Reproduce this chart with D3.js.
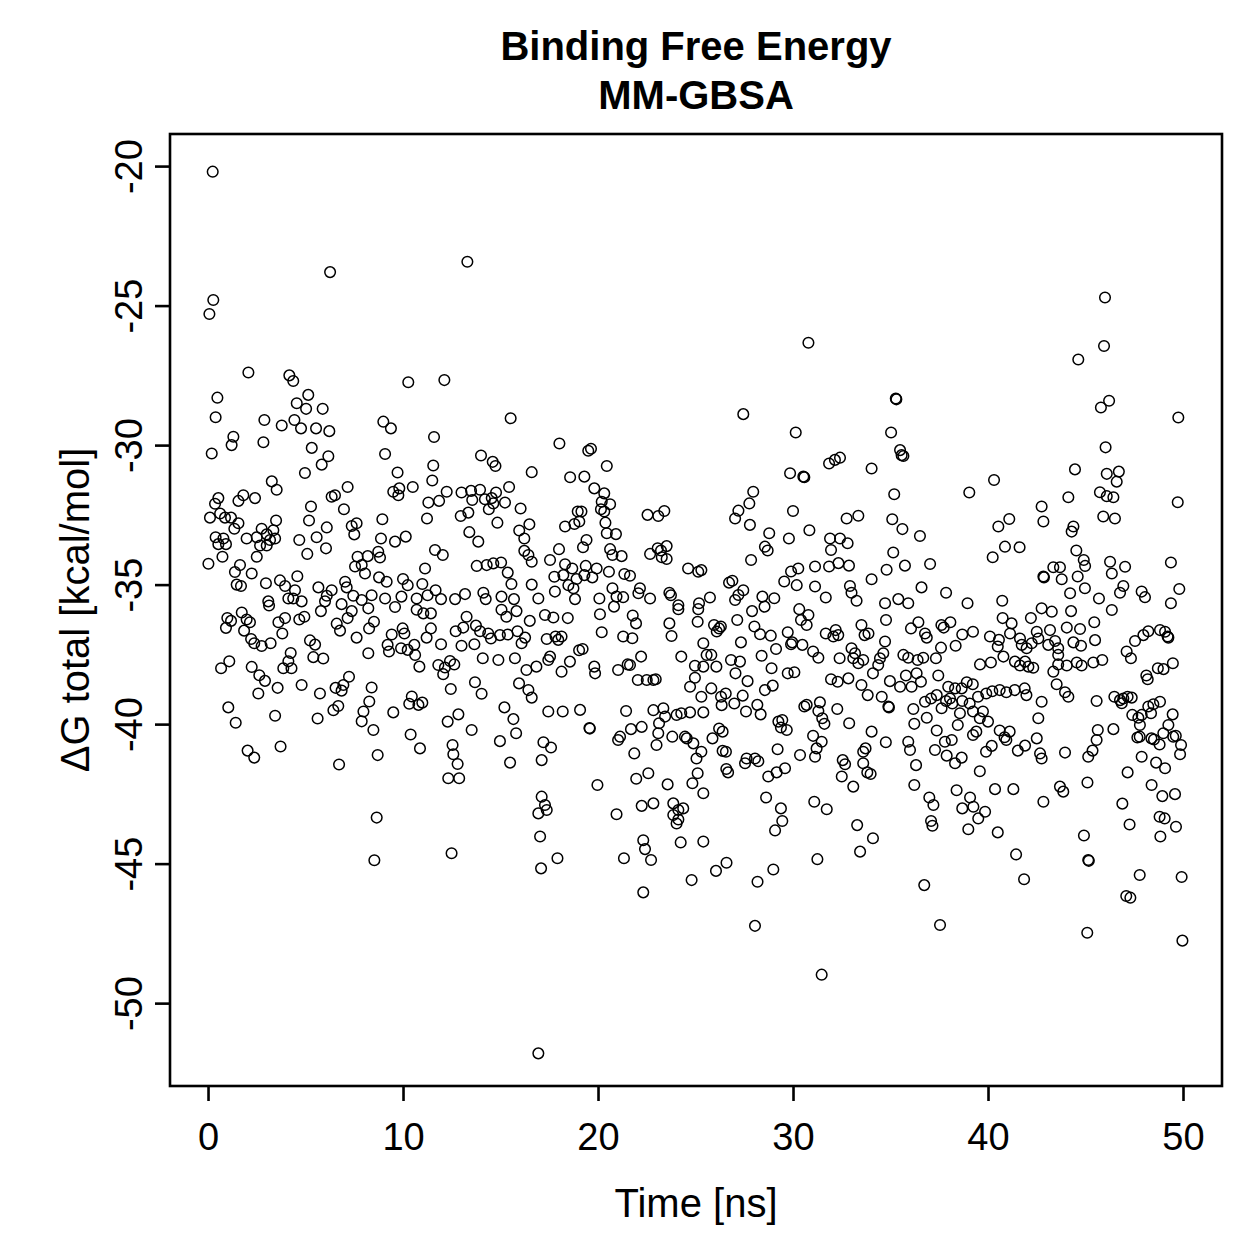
<!DOCTYPE html>
<html>
<head>
<meta charset="utf-8">
<script src="https://cdn.jsdelivr.net/npm/d3@7"></script>
<style>
  html, body { margin: 0; padding: 0; background: #ffffff; }
  svg text { font-family: "Liberation Sans", Arial, Helvetica, sans-serif; fill: #000; }
</style>
</head>
<body>
<svg id="chart" width="1259" height="1259"></svg>
<script>
// ---- Chart text ----
const titleLines = ["Binding Free Energy", "MM-GBSA"];
const xAxisLabel = "Time [ns]";
const yAxisLabel = "\u0394G total [kcal/mol]";

// ---- Tick values ----
const xTicks = [0, 10, 20, 30, 40, 50];
const yTicks = [-20, -25, -30, -35, -40, -45, -50];

// ---- Samples: [time (ns), ΔG total (kcal/mol)] ----
const samplesA = [
[0.24,-20.2],[6.26,-23.8],[0.27,-24.8],[0.07,-25.3],[2.07,-27.4],[4.17,-27.5],[4.37,-27.7],[0.48,-28.3],[5.14,-28.2],[4.55,-28.5],[5.03,-28.7],[5.88,-28.7],[0.39,-29.0],[2.89,-29.1],[3.78,-29.3],[4.43,-29.1],[4.77,-29.4],[5.54,-29.4],[6.22,-29.5],[1.30,-29.7],[1.21,-30.0],[2.84,-29.9],[0.19,-30.3],[5.32,-30.1],[6.17,-30.4],[5.83,-30.7],[4.97,-31.0],[3.27,-31.3],[3.52,-31.6],[7.16,-31.5],[0.36,-32.1],[0.53,-31.9],[1.81,-31.8],[1.56,-32.0],[2.41,-31.9],[6.34,-31.85],[6.51,-31.8],[5.28,-32.2],[6.97,-32.3],[0.10,-32.6],[0.62,-32.45],[0.87,-32.6],[1.18,-32.6],[1.56,-32.8],[1.35,-33.0],[3.49,-32.7],[5.18,-32.7],[6.09,-32.95],[7.37,-32.9],[7.62,-32.8],[7.50,-33.2],[0.39,-33.3],[0.79,-33.35],[0.53,-33.55],[0.92,-33.55],[1.98,-33.35],[2.75,-33.0],[3.01,-33.2],[3.35,-33.05],[3.44,-33.35],[3.18,-33.4],[2.67,-33.6],[3.01,-33.6],[2.50,-33.3],[4.68,-33.4],[5.57,-33.3],[6.05,-33.7],[5.09,-33.9],[0.74,-34.0],[2.50,-34.0],[0.02,-34.25],[1.64,-34.3],[1.38,-34.55],[2.24,-34.6],[7.67,-34.0],[7.54,-34.35],[7.88,-34.3],[3.69,-34.85],[2.97,-34.95],[1.47,-35.0],[1.69,-35.05],[3.95,-35.05],[4.58,-34.7],[4.46,-35.2],[5.66,-35.1],[7.03,-34.9],[7.11,-35.1],[6.34,-35.2],[6.09,-35.4],[7.45,-35.4],[3.09,-35.6],[4.12,-35.5],[4.37,-35.5],[4.80,-35.6],[6.0,-35.6],[6.85,-35.7],[7.88,-35.55],
[3.13,-35.75],[0.99,-36.2],[0.92,-36.55],[1.73,-36.0],[1.98,-36.25],[2.15,-36.35],[1.85,-36.65],[1.18,-36.3],[3.61,-36.35],[3.95,-36.2],[3.81,-36.75],[4.68,-36.25],[4.94,-36.15],[5.79,-35.95],[6.60,-36.4],[6.77,-36.65],[7.16,-36.2],[7.37,-35.95],[7.62,-36.9],[2.21,-36.95],[2.37,-37.1],[2.75,-37.2],[3.21,-37.1],[5.23,-37.0],[5.49,-37.15],[5.40,-37.6],[5.91,-37.65],[4.24,-37.45],[4.12,-37.75],[4.28,-38.0],[3.86,-38.0],[1.09,-37.75],[0.67,-38.0],[2.24,-37.95],[2.63,-38.25],[2.92,-38.45],[2.58,-38.9],[3.57,-38.7],[4.80,-38.6],[5.74,-38.9],[6.54,-38.7],[6.94,-38.6],[6.85,-38.8],[7.23,-38.3],[1.04,-39.4],[1.42,-39.95],[3.44,-39.7],[5.62,-39.8],[6.43,-39.5],[6.68,-39.35],[7.88,-39.9],[7.97,-39.55],[2.03,-40.95],[2.37,-41.2],[3.72,-40.8],[6.72,-41.45]
];
const samplesB = [
[13.30,-23.43],[10.27,-27.75],[12.12,-27.67],[8.99,-29.16],[9.38,-29.4],[15.52,-29.04],[11.59,-29.71],[9.08,-30.32],[14.0,-30.37],[14.6,-30.6],[14.74,-30.75],[11.55,-30.73],[9.72,-30.98],[11.50,-31.27],[16.6,-30.97],[9.5,-31.67],[9.81,-31.55],[9.76,-31.8],[10.5,-31.5],[12.24,-31.67],[11.85,-32.0],[11.3,-32.06],[13.0,-31.7],[13.49,-31.64],[13.95,-31.6],[13.55,-31.97],[14.2,-31.94],[14.55,-31.9],[14.77,-31.7],[15.44,-31.5],[14.63,-32.09],[14.4,-32.3],[15.23,-32.06],[16.03,-32.27],[8.94,-32.66],[11.23,-32.63],[12.96,-32.54],[13.35,-32.42],[14.84,-32.78],[16.48,-32.84],[8.87,-33.35],[9.59,-33.46],[10.14,-33.28],[13.4,-33.12],[13.86,-33.46],[15.96,-33.06],[16.22,-33.35],[8.19,-33.98],[8.73,-33.82],[8.82,-34.03],[11.64,-33.76],[12.04,-33.94],[16.22,-33.79],[16.43,-33.94],[16.6,-34.18],[11.13,-34.42],[13.78,-34.33],[14.29,-34.3],[14.63,-34.24],[15.03,-34.21],[15.37,-34.57],[8.05,-34.6],[8.77,-34.74],[9.16,-34.9],[10.0,-34.8],[10.24,-35.02],[10.99,-34.98],[15.56,-34.98],[16.6,-35.0],[8.39,-35.38],[9.08,-35.5],[9.92,-35.43],[10.7,-35.5],[11.26,-35.38],[11.67,-35.2],[11.95,-35.52],[12.67,-35.52],[13.18,-35.34],[14.12,-35.29],[14.24,-35.52],[15.05,-35.43],[15.69,-35.52],
[8.22,-35.85],[9.59,-35.8],[10.7,-35.9],[11.04,-36.03],[11.43,-36.03],[13.26,-36.15],[15.05,-35.9],[15.3,-36.15],[15.82,-35.95],[16.5,-36.3],[8.51,-36.33],[8.26,-36.57],[9.42,-36.79],[9.98,-36.57],[10.07,-36.75],[11.43,-36.57],[11.21,-36.9],[12.7,-36.67],[13.09,-36.54],[13.74,-36.47],[13.95,-36.67],[14.37,-36.75],[14.51,-36.93],[14.97,-36.81],[15.37,-36.79],[15.87,-36.67],[16.26,-36.9],[16.08,-37.1],[9.21,-37.16],[9.28,-37.4],[8.22,-37.46],[9.9,-37.28],[10.24,-37.34],[10.58,-37.16],[10.62,-37.52],[10.84,-37.94],[11.95,-37.14],[13.0,-37.19],[13.66,-37.14],[14.09,-37.64],[14.89,-37.7],[15.74,-37.64],[11.81,-37.88],[12.15,-37.97],[12.41,-37.74],[12.63,-37.86],[12.06,-38.21],[16.33,-38.06],[8.39,-38.69],[8.27,-39.19],[9.5,-39.58],[10.45,-39.01],[10.32,-39.27],[10.79,-39.31],[10.99,-39.23],[12.45,-38.74],[13.69,-38.5],[14.03,-38.91],[15.95,-38.54],[16.43,-38.78],[16.6,-39.05],[12.29,-39.91],[12.84,-39.65],[13.52,-40.21],[15.2,-39.4],[15.66,-39.82],[15.8,-40.33],[14.97,-40.61],[8.48,-40.21],[10.39,-40.37],[10.87,-40.87],[12.54,-40.75],[12.58,-41.08],[12.8,-41.43],[8.7,-41.11],[15.49,-41.38],[12.32,-41.94],[12.88,-41.94],[8.65,-43.35],[8.53,-44.88],[12.49,-44.63]
];
const samplesC = [
[18.02,-29.94],[19.5,-30.2],[19.64,-30.13],[20.45,-30.75],[18.57,-31.15],[19.3,-31.13],[19.81,-31.55],[20.32,-31.73],[20.19,-32.03],[20.62,-32.12],[20.15,-32.3],[20.32,-32.38],[18.96,-32.38],[19.15,-32.38],[22.54,-32.5],[23.09,-32.54],[23.4,-32.36],[18.31,-32.92],[18.79,-32.83],[19.04,-32.74],[20.38,-32.78],[20.45,-33.16],[20.92,-33.19],[19.41,-33.4],[19.23,-33.66],[18.0,-33.73],[20.62,-33.73],[20.74,-33.94],[21.21,-33.98],[22.67,-33.9],[23.06,-33.7],[23.23,-33.78],[23.52,-33.62],[23.27,-34.02],[23.52,-34.08],[17.54,-34.12],[18.31,-34.27],[18.68,-34.42],[19.37,-34.33],[19.93,-34.42],[20.56,-34.54],[21.35,-34.62],[21.64,-34.68],[24.62,-34.42],[25.14,-34.54],[25.3,-34.48],[17.76,-34.72],[18.22,-34.66],[18.9,-34.8],[19.3,-34.66],[19.71,-34.74],[18.48,-35.02],[18.74,-35.13],[17.79,-35.25],[20.74,-35.13],[22.15,-35.13],[22.07,-35.31],[23.66,-35.29],[23.74,-35.38],[16.94,-35.5],[18.82,-35.52],[20.07,-35.5],[20.95,-35.43],[21.29,-35.45],[22.67,-35.5],[24.12,-35.74],[25.18,-35.67],
[17.28,-36.09],[17.71,-36.18],[18.45,-36.2],[20.1,-36.06],[20.82,-35.79],[21.78,-36.11],[21.95,-36.39],[23.66,-36.39],[24.12,-35.88],[25.11,-36.33],[25.14,-35.88],[17.37,-36.95],[17.82,-36.86],[17.96,-36.98],[18.13,-36.86],[20.19,-36.71],[21.29,-36.86],[21.76,-36.92],[23.77,-36.84],[25.4,-37.1],[17.54,-37.58],[17.45,-37.7],[19.03,-37.35],[19.21,-37.31],[18.56,-37.76],[18.13,-38.12],[16.84,-37.94],[19.81,-37.94],[19.85,-38.18],[21.03,-38.06],[21.52,-37.86],[21.64,-37.88],[22.21,-37.58],[22.04,-38.42],[22.5,-38.42],[22.84,-38.42],[22.96,-38.39],[24.27,-37.58],[24.97,-37.91],[25.4,-37.94],[24.97,-38.34],[24.72,-38.66],[25.3,-39.02],[17.45,-39.55],[18.19,-39.55],[19.08,-39.49],[19.56,-40.14],[19.58,-40.16],[21.44,-39.53],[22.84,-39.5],[23.35,-39.43],[23.13,-39.97],[23.44,-39.73],[24.03,-39.67],[24.27,-39.61],[24.72,-39.58],[25.4,-39.58],[21.69,-40.18],[22.24,-40.1],[21.13,-40.45],[21.03,-40.57],[23.09,-40.33],[23.81,-40.45],[24.46,-40.45],[24.55,-40.51],[24.89,-40.69],[23.0,-40.75],[21.86,-41.05],[17.2,-40.65],[17.59,-40.84],[17.11,-41.29],[25.05,-41.23],[25.3,-40.99],[19.97,-42.18],[21.96,-41.96],[22.58,-41.76],[23.57,-42.16],[24.84,-42.12],[25.11,-41.76],[25.4,-42.48],[22.24,-42.93],[22.84,-42.84],[23.86,-42.84],[24.12,-43.08],[24.37,-43.02],[23.86,-43.26],[24.03,-43.56],[24.12,-43.42],[17.11,-42.6],[17.28,-42.9],[17.37,-43.08],[16.94,-43.2],[20.95,-43.23],[17.03,-44.03],[22.32,-44.16],[22.41,-44.48],[22.72,-44.87],[24.24,-44.24],[25.4,-44.21],[17.92,-44.81],[17.08,-45.17],[21.33,-44.81],[24.8,-45.59],[22.32,-46.03],[16.94,-51.8]
];
const samplesD = [
[30.79,-26.33],[27.45,-28.89],[30.14,-29.55],[31.85,-30.66],[32.15,-30.53],[32.41,-30.45],[29.85,-31.01],[30.53,-31.13],[30.58,-31.15],[34.03,-30.84],[27.96,-31.67],[27.76,-32.09],[27.2,-32.35],[27.03,-32.63],[27.79,-32.86],[30.0,-32.36],[32.75,-32.63],[33.35,-32.53],[28.78,-33.16],[28.56,-33.64],[28.7,-33.78],[29.79,-33.35],[30.84,-33.05],[31.9,-33.35],[32.41,-33.35],[32.8,-33.52],[31.95,-33.76],[27.85,-34.12],[29.9,-34.53],[30.27,-34.42],[31.13,-34.35],[31.85,-34.35],[32.33,-34.23],[32.87,-34.32],[34.03,-34.81],[26.72,-34.93],[26.89,-34.86],[27.45,-35.2],[27.2,-35.37],[29.55,-34.89],[30.19,-35.02],[31.13,-35.07],[32.92,-35.05],[33.0,-35.29],[25.74,-35.46],[27.03,-35.55],[28.43,-35.43],[29.04,-35.49],[31.68,-35.46],[33.26,-35.58],
[27.9,-35.95],[28.54,-35.79],[30.32,-35.88],[30.79,-36.09],[25.95,-36.45],[26.21,-36.57],[26.3,-36.5],[26.09,-36.68],[27.14,-36.27],[28.02,-36.5],[28.31,-36.78],[28.86,-36.83],[29.73,-36.71],[29.96,-37.07],[29.9,-37.14],[30.48,-37.16],[30.41,-36.27],[30.7,-36.45],[31.68,-36.75],[32.07,-36.86],[32.19,-36.63],[32.32,-36.81],[33.51,-36.45],[33.67,-36.81],[33.87,-36.75],[27.33,-37.07],[29.13,-37.31],[28.39,-37.55],[31.03,-37.4],[31.3,-37.62],[32.39,-37.64],[33.0,-37.28],[33.18,-37.46],[33.09,-37.64],[33.35,-37.82],[33.6,-37.7],[25.57,-37.52],[25.81,-37.52],[26.07,-37.94],[26.82,-37.7],[27.28,-37.76],[27.05,-38.18],[27.67,-38.46],[28.9,-38.0],[29.73,-38.18],[30.07,-38.14],[31.95,-38.39],[32.29,-38.48],[32.84,-38.36],[33.51,-38.6],[33.83,-38.96],[34.1,-38.18],[25.81,-38.72],[26.31,-39.02],[26.55,-38.9],[26.34,-39.32],[26.99,-39.26],[27.42,-38.98],[28.56,-38.78],[28.96,-38.62],[27.59,-39.55],[28.17,-39.31],[28.34,-39.65],[30.58,-39.37],[30.7,-39.31],[31.38,-39.22],[31.3,-39.53],[32.27,-39.46],[29.25,-39.91],[29.45,-39.85],[29.38,-40.12],[29.68,-40.21],[31.5,-39.79],[31.61,-39.99],[32.88,-39.97],[34.03,-40.27],[25.87,-40.51],[26.21,-40.16],[26.39,-40.27],[31.03,-40.42],[31.47,-40.63],[31.21,-40.87],[31.13,-41.17],[29.21,-40.9],[30.36,-41.11],[26.39,-40.96],[26.56,-40.99],[27.54,-41.4],[27.62,-41.23],[28.05,-41.23],[28.22,-41.33],[26.58,-41.61],[26.67,-41.73],[28.73,-41.88],[29.16,-41.73],[29.59,-41.58],[32.55,-41.29],[32.67,-41.44],[32.5,-41.88],[33.6,-40.99],[33.72,-40.87],[33.6,-41.4],[33.81,-41.73],[33.98,-41.79],[33.09,-42.24],[28.62,-42.63],[29.38,-43.02],[29.45,-43.47],[29.08,-43.81],[31.09,-42.78],[31.73,-43.05],[33.29,-43.62],[33.44,-44.57],[34.1,-44.09],[26.05,-45.26],[26.59,-44.97],[28.99,-45.21],[28.18,-45.65],[31.25,-44.84],[28.05,-47.23],[31.47,-48.98]
];
const samplesE = [
[35.27,-28.33],[35.3,-28.36],[35.03,-29.55],[35.49,-30.18],[35.66,-30.39],[35.57,-30.36],[40.31,-31.25],[39.04,-31.7],[35.19,-31.76],[35.09,-32.66],[35.61,-33.01],[36.51,-33.26],[40.53,-32.92],[41.09,-32.65],[42.75,-32.2],[42.84,-32.74],[35.14,-33.85],[34.8,-34.47],[35.74,-34.32],[37.03,-34.26],[40.87,-33.64],[40.24,-34.02],[41.62,-33.66],[37.85,-35.29],[36.59,-35.1],[42.84,-34.71],[42.87,-34.74],[35.4,-35.52],[34.72,-35.67],[35.91,-35.67],[38.95,-35.67],[40.73,-35.58],
[42.75,-35.85],[34.77,-36.27],[36.05,-36.57],[36.43,-36.35],[36.77,-36.75],[36.86,-36.9],[37.61,-36.45],[37.73,-36.54],[38.07,-36.35],[38.68,-36.79],[39.23,-36.69],[38.34,-37.19],[37.59,-37.26],[40.75,-36.2],[41.21,-36.39],[42.2,-36.2],[40.1,-36.86],[40.56,-36.98],[40.5,-37.22],[41.13,-36.75],[41.64,-36.93],[41.73,-37.16],[41.98,-37.28],[42.24,-37.1],[42.5,-36.69],[42.58,-36.93],[34.72,-37.04],[34.63,-37.46],[34.37,-37.88],[34.46,-37.64],[35.66,-37.52],[35.91,-37.62],[36.39,-37.7],[36.68,-37.62],[37.33,-37.64],[40.79,-37.58],[39.59,-37.86],[40.15,-37.79],[41.38,-37.76],[41.64,-37.9],[41.9,-37.76],[42.07,-37.94],[42.32,-37.98],[34.97,-38.46],[35.49,-38.66],[35.79,-38.26],[36.08,-38.66],[36.34,-38.18],[36.56,-38.48],[37.45,-38.26],[37.96,-38.66],[38.31,-38.72],[38.65,-38.72],[38.91,-38.5],[39.22,-38.57],[34.55,-39.02],[34.89,-39.37],[34.92,-39.4],[36.17,-39.46],[36.77,-39.2],[37.08,-39.08],[37.37,-38.96],[37.62,-39.43],[37.85,-39.17],[38.05,-39.08],[38.17,-39.26],[38.68,-39.17],[39.06,-39.26],[39.49,-39.02],[39.91,-38.9],[40.22,-38.82],[40.6,-38.78],[40.94,-38.86],[41.37,-38.78],[41.88,-38.72],[41.97,-38.96],[42.75,-39.2],[36.22,-39.99],[36.86,-39.77],[37.37,-40.23],[38.56,-39.61],[38.45,-40.03],[39.23,-39.55],[39.58,-39.79],[39.74,-39.55],[40.0,-39.91],[39.4,-40.27],[39.23,-40.39],[40.6,-40.23],[40.85,-40.47],[41.11,-40.27],[40.94,-40.57],[42.5,-40.51],[42.58,-39.79],[42.67,-41.05],[42.75,-41.23],[41.9,-40.77],[41.53,-40.95],[34.76,-40.65],[35.91,-40.63],[36.0,-40.93],[37.28,-40.93],[37.79,-40.63],[38.14,-40.57],[37.88,-41.13],[38.31,-41.4],[38.65,-41.2],[39.9,-40.99],[40.19,-40.78],[36.31,-41.47],[39.58,-41.69],[36.22,-42.18],[36.99,-42.63],[37.2,-42.9],[38.39,-42.37],[39.08,-42.63],[38.68,-43.02],[39.25,-42.96],[39.5,-43.38],[39.85,-43.14],[40.36,-42.33],[41.3,-42.33],[42.84,-42.78],[37.08,-43.47],[37.15,-43.64],[38.99,-43.77],[40.5,-43.88],[41.44,-44.67],[41.85,-45.56],[36.73,-45.77],[37.54,-47.2]
];
const samplesF = [
[46.0,-24.71],[45.95,-26.45],[44.63,-26.93],[46.21,-28.41],[45.79,-28.65],[49.76,-29.01],[46.03,-30.08],[44.46,-30.87],[46.09,-31.03],[46.71,-30.95],[46.6,-31.31],[45.74,-31.69],[46.09,-31.83],[46.43,-31.87],[44.12,-31.87],[49.73,-32.05],[45.91,-32.56],[46.51,-32.63],[44.38,-32.92],[44.29,-33.1],[44.53,-33.78],[44.91,-34.12],[44.98,-34.33],[46.26,-34.18],[47.03,-34.36],[46.35,-34.6],[49.38,-34.21],[43.35,-34.38],[43.69,-34.38],[43.78,-34.81],[44.6,-34.71],[44.97,-35.13],[44.21,-35.31],[46.94,-35.05],[46.77,-35.29],[47.88,-35.25],[48.05,-35.45],[49.81,-35.16],[45.69,-35.5],[49.38,-35.67],
[43.27,-35.97],[44.26,-35.95],[46.35,-35.91],[43.18,-36.63],[44.04,-36.54],[44.72,-36.59],[45.45,-36.35],[43.44,-37.02],[43.09,-37.16],[43.6,-37.28],[44.38,-37.07],[44.77,-37.19],[45.49,-36.99],[43.6,-37.52],[43.6,-37.86],[44.04,-37.9],[44.55,-37.79],[44.8,-37.9],[45.4,-37.79],[45.86,-37.7],[43.35,-38.12],[43.52,-38.57],[43.95,-38.86],[44.12,-39.02],[47.54,-37.02],[47.97,-36.81],[48.22,-36.67],[48.82,-36.63],[49.08,-36.69],[49.21,-36.86],[49.25,-36.9],[47.11,-37.4],[47.33,-37.64],[48.71,-38.0],[49.0,-38.03],[49.48,-37.82],[48.12,-38.26],[48.19,-38.39],[45.57,-39.17],[46.48,-39.02],[46.77,-39.14],[46.94,-39.08],[47.16,-39.02],[47.37,-39.05],[46.86,-39.25],[47.4,-39.67],[47.71,-39.77],[47.79,-40.03],[47.88,-39.67],[48.22,-39.37],[48.48,-39.29],[48.82,-39.2],[48.36,-39.61],[49.47,-39.65],[49.25,-40.03],[48.99,-40.33],[49.5,-40.45],[49.63,-40.42],[47.66,-40.48],[47.78,-40.45],[48.38,-40.51],[48.51,-40.55],[48.8,-40.73],[49.9,-40.75],[49.85,-41.08],[46.43,-40.18],[45.63,-40.21],[45.57,-40.57],[45.36,-40.95],[45.14,-41.17],[43.95,-41.02],[47.88,-41.17],[48.62,-41.38],[49.08,-41.58],[47.16,-41.73],[45.1,-42.09],[48.39,-42.18],[48.94,-42.58],[49.59,-42.51],[43.69,-42.24],[43.86,-42.42],[46.89,-42.85],[48.8,-43.32],[49.06,-43.38],[47.26,-43.6],[49.64,-43.68],[48.84,-44.03],[44.92,-43.99],[45.14,-44.87],[45.17,-44.9],[47.78,-45.41],[49.93,-45.48],[47.09,-46.16],[47.3,-46.22],[45.09,-47.48],[49.97,-47.76]
];

const samples = [].concat(samplesA, samplesB, samplesC, samplesD, samplesE, samplesF);

// ---- Layout ----
const plot = { left: 170, right: 1222, top: 134, bottom: 1086 };
const svg = d3.select("#chart");

const x = d3.scaleLinear().domain([-1.95, 52.0]).range([plot.left, plot.right]);
const y = d3.scaleLinear().domain([-52.97, -18.85]).range([plot.bottom, plot.top]);

// ASCII hyphen for negative numbers, as in the reference
const fmt = d => String(d);

// points
svg.append("g")
  .selectAll("circle")
  .data(samples)
  .join("circle")
  .attr("cx", d => x(d[0]))
  .attr("cy", d => y(d[1]))
  .attr("r", 5.3)
  .attr("fill", "none")
  .attr("stroke", "#000")
  .attr("stroke-width", 1.5);

// frame
svg.append("rect")
  .attr("x", plot.left).attr("y", plot.top)
  .attr("width", plot.right - plot.left).attr("height", plot.bottom - plot.top)
  .attr("fill", "none").attr("stroke", "#000").attr("stroke-width", 2.6);

// x axis
const xAxis = svg.append("g")
  .attr("transform", `translate(0,${plot.bottom})`)
  .call(d3.axisBottom(x).tickValues(xTicks).tickSize(15).tickSizeOuter(0).tickPadding(22).tickFormat(fmt));
xAxis.select(".domain").remove();
xAxis.selectAll(".tick line").attr("stroke", "#000").attr("stroke-width", 2.6);
xAxis.selectAll(".tick text").attr("font-size", 38).attr("font-family", "Liberation Sans, Arial, sans-serif").attr("fill", "#000");

// y axis
const yAxis = svg.append("g")
  .attr("transform", `translate(${plot.left},0)`)
  .call(d3.axisLeft(y).tickValues(yTicks).tickSize(15).tickSizeOuter(0).tickFormat(fmt));
yAxis.select(".domain").remove();
yAxis.selectAll(".tick line").attr("stroke", "#000").attr("stroke-width", 2.6);
yAxis.selectAll(".tick text")
  .attr("font-size", 38)
  .attr("font-family", "Liberation Sans, Arial, sans-serif")
  .attr("fill", "#000")
  .attr("text-anchor", "middle")
  .attr("dy", 0)
  .attr("x", 0)
  .attr("transform", "translate(-28,0) rotate(-90)");

// title
const title = svg.append("text")
  .attr("text-anchor", "middle")
  .attr("font-weight", "bold")
  .attr("font-size", 40);
title.selectAll("tspan").data(titleLines).join("tspan")
  .attr("x", (plot.left + plot.right) / 2)
  .attr("y", (d, i) => 60 + i * 49)
  .text(d => d);

// axis labels
svg.append("text")
  .attr("x", (plot.left + plot.right) / 2)
  .attr("y", 1217)
  .attr("text-anchor", "middle")
  .attr("font-size", 40)
  .text(xAxisLabel);

svg.append("text")
  .attr("transform", `translate(89,${(plot.top + plot.bottom) / 2}) rotate(-90)`)
  .attr("text-anchor", "middle")
  .attr("font-size", 40)
  .text(yAxisLabel);
</script>
</body>
</html>
